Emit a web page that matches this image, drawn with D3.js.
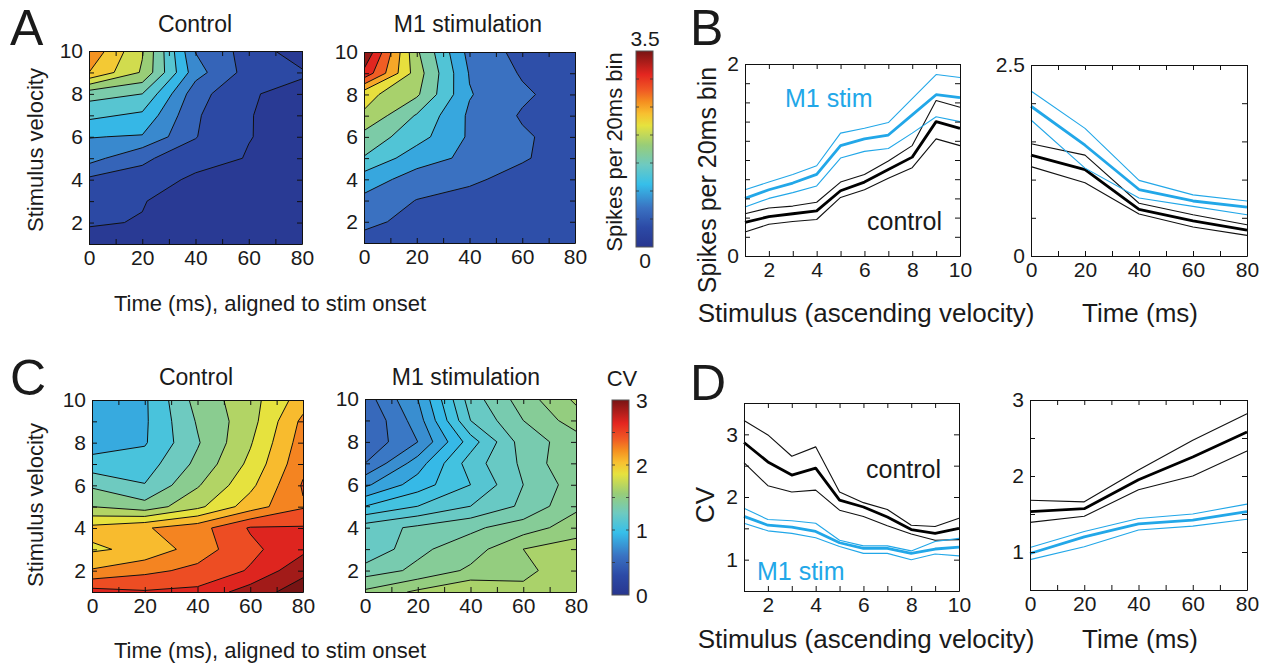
<!DOCTYPE html>
<html>
<head>
<meta charset="utf-8">
<script src="https://cdn.jsdelivr.net/npm/d3@7"></script>
<style>
  body { margin: 0; background: #fff; }
  text { font-family: "Liberation Sans", Arial, sans-serif; fill: #1a1a1a; }
</style>
</head>
<body>
<svg id="fig" width="1270" height="669"></svg>
<script>
// ---- data ----
const velocity = [1, 2, 3, 4, 5, 6, 7, 8, 9, 10];
const timeBins = [0, 20, 40, 60, 80];

// contour grids, rows from velocity 10 (top) down to 1, columns = timeBins
const spikesControl = [
  [2.70, 2.02, 0.74, 0.40, 0.10],
  [2.50, 1.97, 0.85, 0.40, 0.28],
  [1.60, 1.50, 0.60, 0.27, 0.18],
  [1.31, 1.20, 0.53, 0.26, 0.15],
  [1.01, 0.98, 0.51, 0.26, 0.14],
  [0.85, 0.53, 0.40, 0.23, 0.12],
  [0.45, 0.44, 0.18, 0.15, 0.10],
  [0.38, 0.26, 0.15, 0.12, 0.08],
  [0.27, 0.24, 0.12, 0.10, 0.07],
  [0.17, 0.15, 0.10, 0.08, 0.06]
];
const spikesM1 = [
  [3.60, 1.85, 0.80, 0.51, 0.43],
  [3.22, 1.95, 0.88, 0.57, 0.44],
  [2.20, 1.85, 0.92, 0.65, 0.45],
  [2.06, 1.47, 0.85, 0.57, 0.45],
  [1.69, 1.32, 0.86, 0.64, 0.47],
  [1.48, 1.02, 0.84, 0.63, 0.45],
  [1.04, 0.78, 0.65, 0.50, 0.42],
  [0.83, 0.59, 0.50, 0.45, 0.38],
  [0.68, 0.50, 0.40, 0.40, 0.33],
  [0.48, 0.42, 0.35, 0.35, 0.30]
];
const cvControl = [
  [0.90, 0.97, 1.48, 1.72, 2.10],
  [0.88, 0.97, 1.42, 1.72, 2.25],
  [0.90, 0.98, 1.38, 1.78, 2.30],
  [1.08, 1.10, 1.45, 1.85, 2.35],
  [1.37, 1.21, 1.58, 1.95, 2.42],
  [1.60, 1.48, 1.75, 2.10, 2.38],
  [2.06, 2.18, 2.32, 2.62, 2.62],
  [1.97, 2.05, 2.30, 2.55, 2.75],
  [2.22, 2.35, 2.45, 2.62, 2.95],
  [2.68, 2.62, 2.65, 2.90, 3.10]
];
const cvM1 = [
  [0.55, 0.80, 1.25, 1.45, 1.62],
  [0.50, 0.75, 1.20, 1.40, 1.55],
  [0.52, 0.70, 1.05, 1.35, 1.45],
  [0.60, 0.85, 1.15, 1.32, 1.50],
  [0.78, 0.95, 1.10, 1.30, 1.45],
  [1.00, 1.10, 1.20, 1.32, 1.48],
  [1.25, 1.32, 1.38, 1.45, 1.55],
  [1.20, 1.38, 1.45, 1.60, 1.65],
  [1.35, 1.42, 1.52, 1.58, 1.65],
  [1.52, 1.62, 1.70, 1.62, 1.70]
];

// contour levels
const spikesControlLevels = [0, 0.25, 0.5, 0.75, 1, 1.25, 1.5, 1.75, 2, 2.25, 2.5];
const spikesM1Levels = [0.3, 0.6, 0.9, 1.2, 1.5, 1.8, 2.1, 2.4, 2.7, 3.0, 3.3];
const cvControlLevels = [0.8, 1.0, 1.2, 1.4, 1.6, 1.8, 2.0, 2.2, 2.4, 2.6, 2.8, 3.0];
const cvM1Levels = [0.5, 0.6, 0.7, 0.8, 0.9, 1.0, 1.1, 1.2, 1.3, 1.4, 1.5, 1.6, 1.7];

// B: spikes vs stimulus
const spkStimCtrl   = [0.35, 0.41, 0.44, 0.47, 0.68, 0.77, 0.90, 1.03, 1.40, 1.33];
const spkStimCtrlHi = [0.44, 0.50, 0.52, 0.56, 0.77, 0.85, 0.99, 1.15, 1.62, 1.55];
const spkStimCtrlLo = [0.25, 0.33, 0.36, 0.38, 0.61, 0.69, 0.81, 0.92, 1.22, 1.15];
const spkStimM1     = [0.60, 0.69, 0.76, 0.85, 1.15, 1.22, 1.26, 1.47, 1.68, 1.65];
const spkStimM1Hi   = [0.69, 0.77, 0.85, 0.94, 1.28, 1.33, 1.39, 1.64, 1.89, 1.86];
const spkStimM1Lo   = [0.51, 0.60, 0.66, 0.73, 1.02, 1.09, 1.12, 1.28, 1.45, 1.40];
// B: spikes vs time
const spkTimeCtrl   = [1.32, 1.13, 0.61, 0.46, 0.34];
const spkTimeCtrlHi = [1.47, 1.32, 0.69, 0.54, 0.41];
const spkTimeCtrlLo = [1.17, 0.96, 0.55, 0.38, 0.27];
const spkTimeM1     = [1.96, 1.45, 0.87, 0.72, 0.64];
const spkTimeM1Hi   = [2.16, 1.67, 0.99, 0.80, 0.72];
const spkTimeM1Lo   = [1.78, 1.15, 0.76, 0.65, 0.54];
// D: CV vs stimulus
const cvStimCtrl   = [2.87, 2.56, 2.35, 2.46, 1.95, 1.84, 1.68, 1.48, 1.42, 1.50];
const cvStimCtrlHi = [3.22, 2.99, 2.65, 2.80, 2.08, 1.91, 1.80, 1.55, 1.53, 1.66];
const cvStimCtrlLo = [2.55, 2.18, 2.08, 2.11, 1.79, 1.69, 1.54, 1.41, 1.31, 1.32];
const cvStimM1     = [1.69, 1.55, 1.52, 1.45, 1.27, 1.18, 1.18, 1.10, 1.17, 1.20];
const cvStimM1Hi   = [1.82, 1.64, 1.62, 1.58, 1.31, 1.22, 1.22, 1.14, 1.29, 1.34];
const cvStimM1Lo   = [1.58, 1.46, 1.42, 1.35, 1.21, 1.10, 1.10, 1.00, 1.09, 1.06];
// D: CV vs time
const cvTimeCtrl   = [1.53, 1.57, 1.95, 2.25, 2.58];
const cvTimeCtrlHi = [1.68, 1.66, 2.08, 2.47, 2.82];
const cvTimeCtrlLo = [1.39, 1.47, 1.82, 2.00, 2.33];
const cvTimeM1     = [0.98, 1.20, 1.37, 1.42, 1.53];
const cvTimeM1Hi   = [1.06, 1.27, 1.44, 1.50, 1.63];
const cvTimeM1Lo   = [0.90, 1.07, 1.29, 1.34, 1.43];

// ---- setup ----
const svg = d3.select("#fig");
const FONT = '"Liberation Sans", Arial, sans-serif';
const BLUE = "#22a7e8";

const jetPos = [0, 0.1, 0.2, 0.32, 0.42, 0.52, 0.62, 0.68, 0.74, 0.8, 0.88, 1];
const jetCol = ["#28368f", "#2c4aa6", "#3a72c2", "#36bfea", "#6ecac0", "#98cd78",
                "#e6e23e", "#f8c030", "#f59020", "#f05a24", "#e42620", "#781414"];
const jet = d3.scaleLinear().domain(jetPos).range(jetCol).clamp(true);

function sameVal(a, b) { return Math.abs(a - b) < 1e-6; }

function boxAxes(g, x, y, xTicks, xLabels, yTicks, yLabels, fs) {
  const [x0, x1] = x.range();
  const [yb, yt] = y.range();
  const fmt = labs => d => labs.some(l => sameVal(l, d)) ? String(d) : "";
  const style = sel => {
    sel.selectAll("path").attr("stroke", "#111").attr("stroke-width", 1);
    sel.selectAll("line").attr("stroke", "#111").attr("stroke-width", 1);
    sel.selectAll("text").attr("font-size", fs).attr("font-family", FONT);
  };
  g.append("g").attr("transform", `translate(0,${yb})`)
    .call(d3.axisBottom(x).tickValues(xTicks).tickFormat(fmt(xLabels)).tickSizeInner(-5).tickSizeOuter(0).tickPadding(6))
    .call(style);
  g.append("g").attr("transform", `translate(0,${yt})`)
    .call(d3.axisTop(x).tickValues(xTicks).tickFormat("").tickSizeInner(-5).tickSizeOuter(0))
    .call(style);
  g.append("g").attr("transform", `translate(${x0},0)`)
    .call(d3.axisLeft(y).tickValues(yTicks).tickFormat(fmt(yLabels)).tickSizeInner(-5).tickSizeOuter(0).tickPadding(6))
    .call(style);
  g.append("g").attr("transform", `translate(${x1},0)`)
    .call(d3.axisRight(y).tickValues(yTicks).tickFormat("").tickSizeInner(-5).tickSizeOuter(0))
    .call(style);
}

let clipId = 0;
function contourPanel(box, grid, levels, cmax) {
  const g = svg.append("g");
  const x = d3.scaleLinear().domain([0, 80]).range([box.x0, box.x1]);
  const y = d3.scaleLinear().domain([1, 10]).range([box.y1, box.y0]);
  const nx = timeBins.length, ny = velocity.length;
  const values = grid.flat();
  // grid coordinates: sample i sits at i + 0.5
  const gx = d3.scaleLinear().domain([0.5, nx - 0.5]).range([x(timeBins[0]), x(timeBins[nx - 1])]);
  const gy = d3.scaleLinear().domain([0.5, ny - 0.5]).range([y(10), y(1)]);
  const proj = d3.geoTransform({ point: function(px, py) { this.stream.point(gx(px), gy(py)); } });
  const path = d3.geoPath(proj);
  const conts = d3.contours().size([nx, ny]).thresholds(levels)(values);

  const id = "clip" + (clipId++);
  g.append("clipPath").attr("id", id).append("rect")
    .attr("x", box.x0).attr("y", box.y0).attr("width", box.x1 - box.x0).attr("height", box.y1 - box.y0);
  const inner = g.append("g").attr("clip-path", `url(#${id})`);
  const step = levels[1] - levels[0];
  inner.selectAll("path.fill").data(conts).join("path")
    .attr("class", "fill")
    .attr("d", path)
    .attr("fill", d => jet((d.value + step * 0.3) / cmax))
    .attr("stroke", "none");
  inner.selectAll("path.line").data(conts.slice(1)).join("path")
    .attr("class", "line")
    .attr("d", path)
    .attr("fill", "none")
    .attr("stroke", "#111")
    .attr("stroke-width", 1);

  boxAxes(g, x, y, [0, 10, 20, 30, 40, 50, 60, 70, 80], [0, 20, 40, 60, 80],
          velocity, [2, 4, 6, 8, 10], 21);
  return g;
}

function colorbar(box, cmax, ticks, labels, labelPos) {
  const g = svg.append("g");
  const gid = "grad" + (clipId++);
  const grad = svg.append("defs").append("linearGradient").attr("id", gid)
    .attr("x1", 0).attr("y1", 1).attr("x2", 0).attr("y2", 0);
  grad.selectAll("stop").data(jetPos).join("stop")
    .attr("offset", d => d).attr("stop-color", (d, i) => jetCol[i]);
  const y = d3.scaleLinear().domain([0, cmax]).range([box.y1, box.y0]);
  g.append("rect").attr("x", box.x0).attr("y", box.y0)
    .attr("width", box.x1 - box.x0).attr("height", box.y1 - box.y0)
    .attr("fill", `url(#${gid})`).attr("stroke", "#555").attr("stroke-width", 1);
  g.selectAll("line.tl").data(ticks).join("line")
    .attr("x1", box.x0).attr("x2", box.x0 + 3).attr("y1", d => y(d)).attr("y2", d => y(d))
    .attr("stroke", "#333").attr("stroke-width", 0.8);
  g.selectAll("line.tr").data(ticks).join("line")
    .attr("x1", box.x1 - 3).attr("x2", box.x1).attr("y1", d => y(d)).attr("y2", d => y(d))
    .attr("stroke", "#333").attr("stroke-width", 0.8);
  g.selectAll("text").data(labels).join("text")
    .attr("x", d => labelPos(d, y)[0]).attr("y", d => labelPos(d, y)[1])
    .attr("text-anchor", labelPos.anchor)
    .attr("font-size", 21)
    .text(d => String(d));
  return g;
}

function linePanel(box, xdom, ydom, xs, groups, xTicks, xLabels, yTicks, yLabels) {
  const g = svg.append("g");
  const x = d3.scaleLinear().domain(xdom).range([box.x0, box.x1]);
  const y = d3.scaleLinear().domain(ydom).range([box.y1, box.y0]);
  const line = d3.line().x((d, i) => x(xs[i])).y(d => y(d));
  groups.forEach(s => {
    g.append("path").datum(s.values).attr("d", line)
      .attr("fill", "none").attr("stroke", s.color).attr("stroke-width", s.width)
      .attr("stroke-linejoin", "round");
  });
  boxAxes(g, x, y, xTicks, xLabels, yTicks, yLabels, 21);
  return g;
}

function label(txt, x, y, size, opts = {}) {
  const t = svg.append("text").attr("x", x).attr("y", y)
    .attr("font-size", size).attr("text-anchor", opts.anchor || "middle").text(txt);
  if (opts.rotate) t.attr("transform", `rotate(-90,${x},${y})`);
  if (opts.color) t.style("fill", opts.color);
  return t;
}

// ---- panel A ----
contourPanel({ x0: 89, x1: 302, y0: 51, y1: 244 }, spikesControl, spikesControlLevels, 3.5);
contourPanel({ x0: 364, x1: 575, y0: 52, y1: 243 }, spikesM1, spikesM1Levels, 3.5);
const cbA = (d, y) => [645, d === 0 ? 268 : 46];
cbA.anchor = "middle";
colorbar({ x0: 636, x1: 653, y0: 51, y1: 247 }, 3.5, [0.5, 1, 1.5, 2, 2.5, 3], [0, 3.5], cbA);

// ---- panel C ----
contourPanel({ x0: 92, x1: 303, y0: 400, y1: 592 }, cvControl, cvControlLevels, 3);
contourPanel({ x0: 365, x1: 576, y0: 399, y1: 592 }, cvM1, cvM1Levels, 3);
const cbC = (d, y) => [636, y(d) + 8];
cbC.anchor = "start";
colorbar({ x0: 612, x1: 629, y0: 400, y1: 595 }, 3, [0.5, 1, 1.5, 2, 2.5], [0, 1, 2, 3], cbC);

// ---- panel B ----
const stimTicks = velocity, stimLabels = [2, 4, 6, 8, 10];
const tTicks = [0, 10, 20, 30, 40, 50, 60, 70, 80], tLabels = [0, 20, 40, 60, 80];
linePanel({ x0: 745, x1: 960, y0: 64, y1: 256 }, [1, 10], [0, 2], velocity, [
  { values: spkStimCtrlHi, color: "#111", width: 1.1 },
  { values: spkStimCtrlLo, color: "#111", width: 1.1 },
  { values: spkStimCtrl, color: "#000", width: 2.8 },
  { values: spkStimM1Hi, color: BLUE, width: 1.1 },
  { values: spkStimM1Lo, color: BLUE, width: 1.1 },
  { values: spkStimM1, color: BLUE, width: 2.8 }
], stimTicks, stimLabels, [0, 0.2, 0.4, 0.6, 0.8, 1, 1.2, 1.4, 1.6, 1.8, 2], [0, 2]);
linePanel({ x0: 1031, x1: 1247, y0: 65, y1: 256 }, [0, 80], [0, 2.5], timeBins, [
  { values: spkTimeCtrlHi, color: "#111", width: 1.1 },
  { values: spkTimeCtrlLo, color: "#111", width: 1.1 },
  { values: spkTimeCtrl, color: "#000", width: 2.8 },
  { values: spkTimeM1Hi, color: BLUE, width: 1.1 },
  { values: spkTimeM1Lo, color: BLUE, width: 1.1 },
  { values: spkTimeM1, color: BLUE, width: 2.8 }
], tTicks, tLabels, [0, 0.5, 1, 1.5, 2, 2.5], [0, 2.5]);

// ---- panel D ----
linePanel({ x0: 744, x1: 959, y0: 403, y1: 591 }, [1, 10], [0.5, 3.5], velocity, [
  { values: cvStimCtrlHi, color: "#111", width: 1.1 },
  { values: cvStimCtrlLo, color: "#111", width: 1.1 },
  { values: cvStimCtrl, color: "#000", width: 2.8 },
  { values: cvStimM1Hi, color: BLUE, width: 1.1 },
  { values: cvStimM1Lo, color: BLUE, width: 1.1 },
  { values: cvStimM1, color: BLUE, width: 2.8 }
], stimTicks, stimLabels, [0.5, 1, 1.5, 2, 2.5, 3, 3.5], [1, 2, 3]);
linePanel({ x0: 1030, x1: 1247, y0: 400, y1: 590 }, [0, 80], [0.5, 3], timeBins, [
  { values: cvTimeCtrlHi, color: "#111", width: 1.1 },
  { values: cvTimeCtrlLo, color: "#111", width: 1.1 },
  { values: cvTimeCtrl, color: "#000", width: 2.8 },
  { values: cvTimeM1Hi, color: BLUE, width: 1.1 },
  { values: cvTimeM1Lo, color: BLUE, width: 1.1 },
  { values: cvTimeM1, color: BLUE, width: 2.8 }
], tTicks, tLabels, [0.5, 1, 1.5, 2, 2.5, 3], [1, 2, 3]);

// ---- texts ----
label("A", 10, 45, 50, { anchor: "start" });
label("B", 690, 45, 50, { anchor: "start" });
label("C", 10, 395, 50, { anchor: "start" });
label("D", 690, 400, 50, { anchor: "start" });

label("Control", 195, 32, 23);
label("M1 stimulation", 468, 32, 23);
label("Control", 196, 385, 23);
label("M1 stimulation", 466, 385, 23);
label("CV", 622, 386, 22);

label("Stimulus velocity", 43, 150, 22, { rotate: true });
label("Stimulus velocity", 43, 505, 22, { rotate: true });
label("Time (ms), aligned to stim onset", 270, 311, 22);
label("Time (ms), aligned to stim onset", 270, 658, 22);
label("Spikes per 20ms bin", 622, 152, 22, { rotate: true });

label("Spikes per 20ms bin", 716, 180, 25, { rotate: true });
label("Stimulus (ascending velocity)", 866, 322, 26);
label("Time (ms)", 1140, 322, 26);
label("CV", 714, 505, 26, { rotate: true });
label("Stimulus (ascending velocity)", 866, 648, 26);
label("Time (ms)", 1140, 648, 26);

label("M1 stim", 785, 107, 25, { anchor: "start", color: BLUE });
label("control", 867, 230, 25, { anchor: "start" });
label("control", 866, 478, 25, { anchor: "start" });
label("M1 stim", 757, 580, 25, { anchor: "start", color: BLUE });
</script>
</body>
</html>
